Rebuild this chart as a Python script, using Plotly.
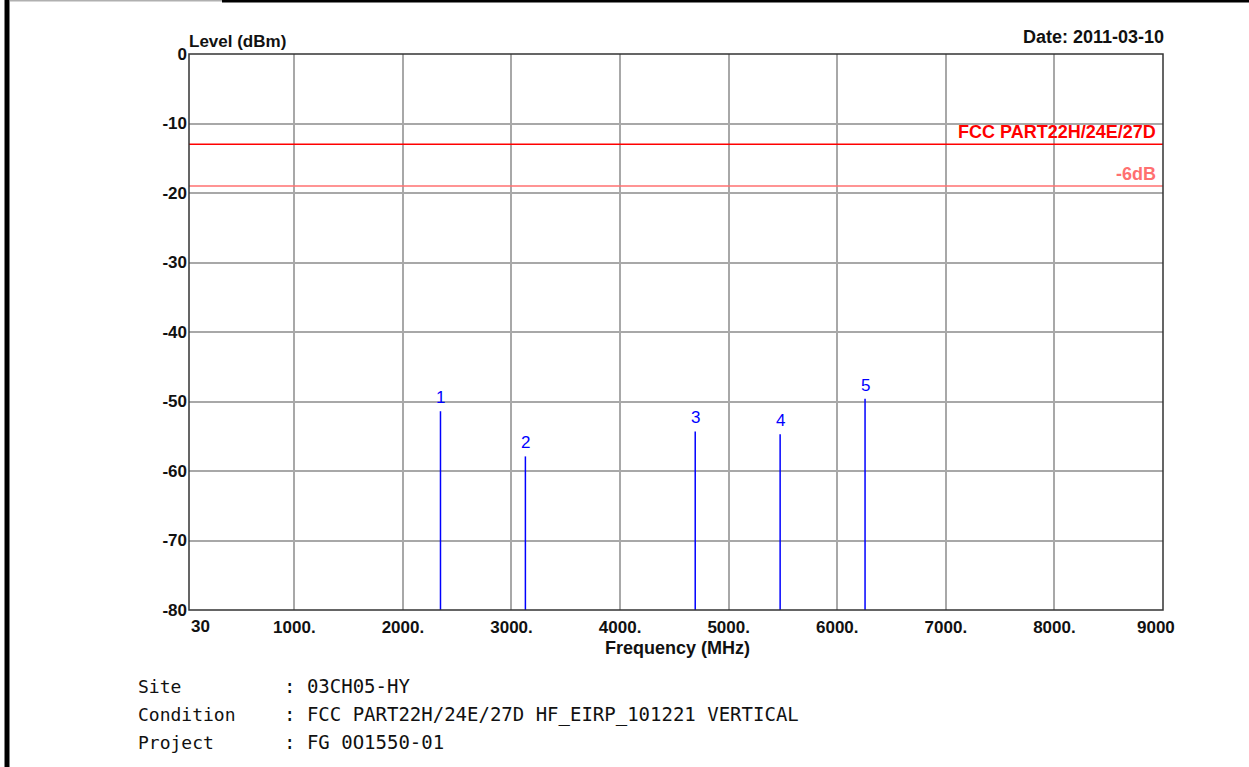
import plotly.graph_objects as go

# ---- data ----
marker_ids = ["1", "2", "3", "4", "5"]
marker_freq = [2346, 3128, 4692, 5474, 6256]          # MHz
marker_level = [-51.4, -57.9, -54.3, -54.7, -49.6]    # dBm
limit_level = -13.0
margin_level = -19.0
limit_label = "FCC PART22H/24E/27D"
margin_label = "-6dB"
x_start_label = "30"
x_tick_vals = [30, 1000, 2000, 3000, 4000, 5000, 6000, 7000, 8000, 9000]
x_tick_text = ["", "1000.", "2000.", "3000.", "4000.", "5000.",
               "6000.", "7000.", "8000.", "9000\u00a0\u00a0\u00a0"]
y_tick_vals = [0, -10, -20, -30, -40, -50, -60, -70, -80]
y_tick_text = ["0", "-10", "-20", "-30", "-40", "-50", "-60", "-70", "-80"]
info_keys = ["Site", "Condition", "Project"]
info_vals = [": 03CH05-HY", ": FCC PART22H/24E/27D HF_EIRP_101221 VERTICAL", ": FG 0O1550-01"]
date_text = "Date: 2011-03-10"

# ---- layout geometry ----
W, H = 1249, 767
ML, MR, MT, MB = 189, 86, 54, 157
PW, PH = W - ML - MR, H - MT - MB


def px(x):
    return (x - ML) / PW


def py(y):
    return (H - MB - y) / PH


BLUE = "#0000ff"
RED = "#ff0000"
PINK = "#ff7070"
GRID = "#a8a8a8"
BOLD = "Liberation Sans"
INFO_FONT = "DejaVu Sans Mono"
TICKFONT = dict(size=17, family=BOLD, color="#111", weight="bold")

fig = go.Figure()

# limit lines
fig.add_trace(go.Scatter(x=[30, 9000], y=[limit_level, limit_level], mode="lines",
                         line=dict(color=RED, width=1.5), hoverinfo="skip", showlegend=False))
fig.add_trace(go.Scatter(x=[30, 9000], y=[margin_level, margin_level], mode="lines",
                         line=dict(color=PINK, width=1.5), hoverinfo="skip", showlegend=False))

# marker stems
xs, ys = [], []
for f, v in zip(marker_freq, marker_level):
    xs += [f, f, None]
    ys += [-80, v, None]
fig.add_trace(go.Scatter(x=xs, y=ys, mode="lines", line=dict(color=BLUE, width=1.5),
                         hoverinfo="skip", showlegend=False))

annotations = []
for mid, f, v in zip(marker_ids, marker_freq, marker_level):
    annotations.append(dict(x=f, y=v, xref="x", yref="y", text=mid, xanchor="center",
                            yanchor="bottom", showarrow=False, yshift=2,
                            font=dict(color=BLUE, size=17, family="Liberation Sans")))

annotations += [
    dict(x=x_tick_vals[0], y=-80, xref="x", yref="y", text=x_start_label,
         xanchor="left", yanchor="top", showarrow=False, xshift=0, yshift=-5,
         font=TICKFONT),
    dict(x=9000, y=limit_level, xref="x", yref="y", text=limit_label,
         xanchor="right", yanchor="bottom", showarrow=False, xshift=-5, yshift=0,
         font=dict(color=RED, size=18, family=BOLD, weight="bold")),
    dict(x=9000, y=margin_level, xref="x", yref="y", text=margin_label,
         xanchor="right", yanchor="bottom", showarrow=False, xshift=-5, yshift=0,
         font=dict(color=PINK, size=18, family=BOLD, weight="bold")),
    dict(x=px(ML), y=py(MT - 1), xref="paper", yref="paper", text="Level (dBm)",
         xanchor="left", yanchor="bottom", showarrow=False, xshift=-2,
         font=dict(color="#111", size=17, family=BOLD, weight="bold")),
    dict(x=px(1166), y=py(MT - 5), xref="paper", yref="paper", text=date_text,
         xanchor="right", yanchor="bottom", showarrow=False,
         font=dict(color="#111", size=18, family=BOLD, weight="bold")),
    dict(x=px(677), y=py(648), xref="paper", yref="paper", text="Frequency (MHz)",
         xanchor="center", yanchor="middle", showarrow=False,
         font=dict(color="#111", size=18, family=BOLD, weight="bold")),
]
for i, (k, v) in enumerate(zip(info_keys, info_vals)):
    yy = py(686 + 28 * i)
    annotations.append(dict(x=px(136), y=yy, xref="paper", yref="paper", text=k,
                            xanchor="left", yanchor="middle", showarrow=False,
                            font=dict(color="#111", size=18, family=INFO_FONT)))
    annotations.append(dict(x=px(282), y=yy, xref="paper", yref="paper", text=v,
                            xanchor="left", yanchor="middle", showarrow=False,
                            font=dict(color="#111", size=19, family=INFO_FONT)))

shapes = [
    # page border: thick left bar and top line
    dict(type="line", xref="paper", yref="paper", x0=px(7), x1=px(7), y0=py(0), y1=py(H),
         line=dict(color="black", width=5)),
    dict(type="line", xref="paper", yref="paper", x0=px(222), x1=px(W), y0=py(1), y1=py(1),
         line=dict(color="black", width=3)),
    dict(type="line", xref="paper", yref="paper", x0=px(10), x1=px(222), y0=py(0.5), y1=py(0.5),
         line=dict(color="#b0b0b0", width=2)),
    # plot frame
    dict(type="rect", xref="paper", yref="paper", x0=0, x1=1, y0=0, y1=1,
         line=dict(color="#333333", width=1.5)),
]

fig.update_layout(
    width=W, height=H,
    margin=dict(l=ML, r=MR, t=MT, b=MB, pad=0),
    paper_bgcolor="white", plot_bgcolor="white",
    annotations=annotations, shapes=shapes,
    xaxis=dict(range=[30, 9000], tickvals=x_tick_vals, ticktext=x_tick_text,
               showgrid=True, gridcolor=GRID, gridwidth=1.5, zeroline=False,
               ticks="", showline=False, ticklabelstandoff=5, tickfont=TICKFONT),
    yaxis=dict(range=[-80, 0], tickvals=y_tick_vals, ticktext=y_tick_text,
               showgrid=True, gridcolor=GRID, gridwidth=1.5, zeroline=False,
               ticks="", showline=False, ticklabelstandoff=1, tickfont=TICKFONT),
)

fig.write_html("out.html", config={"displayModeBar": False},
               post_script="document.body.style.margin='0';document.body.style.overflow='hidden';")
